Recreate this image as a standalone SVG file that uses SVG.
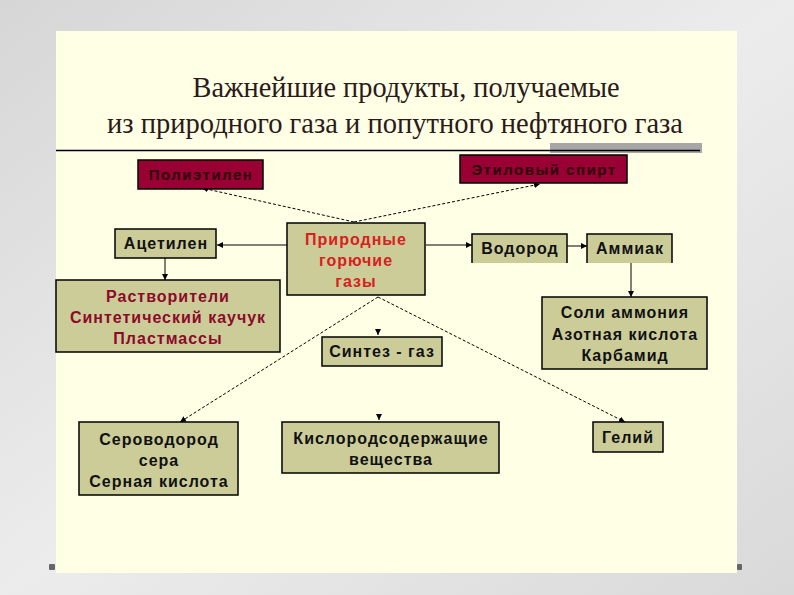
<svg xmlns="http://www.w3.org/2000/svg" width="794" height="595" viewBox="0 0 794 595">
<defs>
<linearGradient id="bg" x1="0" y1="0" x2="1" y2="1">
<stop offset="0" stop-color="#d6d6d6"/>
<stop offset="0.5" stop-color="#ececec"/>
<stop offset="1" stop-color="#d9d9d9"/>
</linearGradient>
<marker id="ah" viewBox="0 0 10 10" refX="10" refY="5" markerWidth="6" markerHeight="6" markerUnits="userSpaceOnUse" orient="auto">
<path d="M0,0 L10,5 L0,10 Z" fill="#000"/>
</marker>
<style>
.box{fill:#CCCC99;stroke:#000;stroke-width:1.5}
.red{fill:#990033;stroke:#000;stroke-width:1.5}
.t{font-family:"Liberation Sans",Arial,sans-serif;font-weight:bold;font-size:16px;letter-spacing:1px;text-anchor:middle;fill:#111}
.tr{fill:#8B0A2A}
.tc{fill:#D82020}
.td{font-size:15px;letter-spacing:1.5px;fill:#2e000c}
.c{stroke:#000;stroke-width:1;fill:none;marker-end:url(#ah)}
.d{stroke-dasharray:3 2}
.title{font-family:"Liberation Serif","Times New Roman",serif;font-size:30px;fill:#2a1a1a;text-anchor:middle}
</style>
</defs>
<rect x="0" y="0" width="794" height="595" fill="url(#bg)"/>
<rect x="56" y="31" width="681" height="542" fill="#FFFFE5"/>
<rect x="49" y="564" width="6" height="6" fill="#666" rx="1"/>
<rect x="737" y="564" width="5" height="6" fill="#666" rx="1"/>
<text class="title" x="406" y="97" textLength="427" lengthAdjust="spacingAndGlyphs">Важнейшие продукты, получаемые</text>
<text class="title" x="395" y="133" textLength="576" lengthAdjust="spacingAndGlyphs">из природного газа и попутного нефтяного газа</text>
<rect x="550" y="143" width="152" height="10" fill="#A6A6A6"/>
<line x1="56" y1="150.5" x2="700" y2="150.5" stroke="#000" stroke-width="1.5"/>

<g id="connectors">
<line class="c d" x1="354" y1="222" x2="202" y2="188"/>
<line class="c d" x1="354" y1="222" x2="540" y2="184"/>
<line class="c" x1="287" y1="245" x2="217" y2="245"/>
<line class="c" x1="426" y1="245" x2="472" y2="245"/>
<line class="c" x1="567" y1="246" x2="587" y2="246"/>
<line class="c" x1="631" y1="263" x2="631" y2="297"/>
<line class="c" x1="165" y1="258" x2="165" y2="280"/>
<line class="c d" x1="378" y1="297" x2="180" y2="422"/>
<line class="c d" x1="378" y1="297" x2="625" y2="422"/>
<line class="c" x1="378" y1="329" x2="378" y2="335"/>
<line class="c" x1="379" y1="414" x2="379" y2="420"/>
</g>

<g id="polietilen"><rect class="red" x="138" y="160" width="125" height="29"/><text class="t td" x="201" y="180">Полиэтилен</text></g>
<g id="etilovy"><rect class="red" x="460" y="155" width="167" height="28"/><text class="t td" x="544" y="175">Этиловый спирт</text></g>
<g id="acetilen"><rect class="box" x="115" y="229" width="101" height="29"/><text class="t" x="166" y="249">Ацетилен</text></g>
<g id="prirodnye"><rect class="box" x="287" y="223" width="138" height="72"/>
<text class="t tc" x="356" y="245">Природные</text><text class="t tc" x="356" y="266">горючие</text><text class="t tc" x="356" y="287">газы</text></g>
<g id="rastvoriteli"><rect class="box" x="56" y="280" width="224" height="72"/>
<text class="t tr" x="168" y="302">Растворители</text><text class="t tr" x="168" y="323">Синтетический каучук</text><text class="t tr" x="168" y="344">Пластмассы</text></g>
<g id="sintez"><rect class="box" x="322" y="337" width="120" height="29"/><text class="t" x="382" y="357">Синтез - газ</text></g>
<g id="vodorod"><rect x="472" y="234" width="95" height="29" fill="#CCCC99"/><path d="M472,263 V234 H567 V263" fill="none" stroke="#000" stroke-width="1.5"/><text class="t" x="520" y="254">Водород</text></g>
<g id="ammiak"><rect x="587" y="234" width="85" height="29" fill="#CCCC99"/><path d="M587,263 V234 H672 V263" fill="none" stroke="#000" stroke-width="1.5"/><text class="t" x="630" y="254">Аммиак</text></g>
<g id="soli"><rect class="box" x="542" y="297" width="165" height="72"/>
<text class="t" x="625" y="318">Соли аммония</text><text class="t" x="625" y="340">Азотная кислота</text><text class="t" x="625" y="361">Карбамид</text></g>
<g id="serovodorod"><rect class="box" x="79" y="422" width="159" height="73"/>
<text class="t" x="159" y="445">Сероводород</text><text class="t" x="159" y="466">сера</text><text class="t" x="159" y="487">Серная кислота</text></g>
<g id="kislorod"><rect class="box" x="282" y="422" width="217" height="51"/>
<text class="t" x="391" y="444">Кислородсодержащие</text><text class="t" x="391" y="465">вещества</text></g>
<g id="gelii"><rect class="box" x="593" y="422" width="70" height="30"/><text class="t" x="628" y="443">Гелий</text></g>
</svg>
